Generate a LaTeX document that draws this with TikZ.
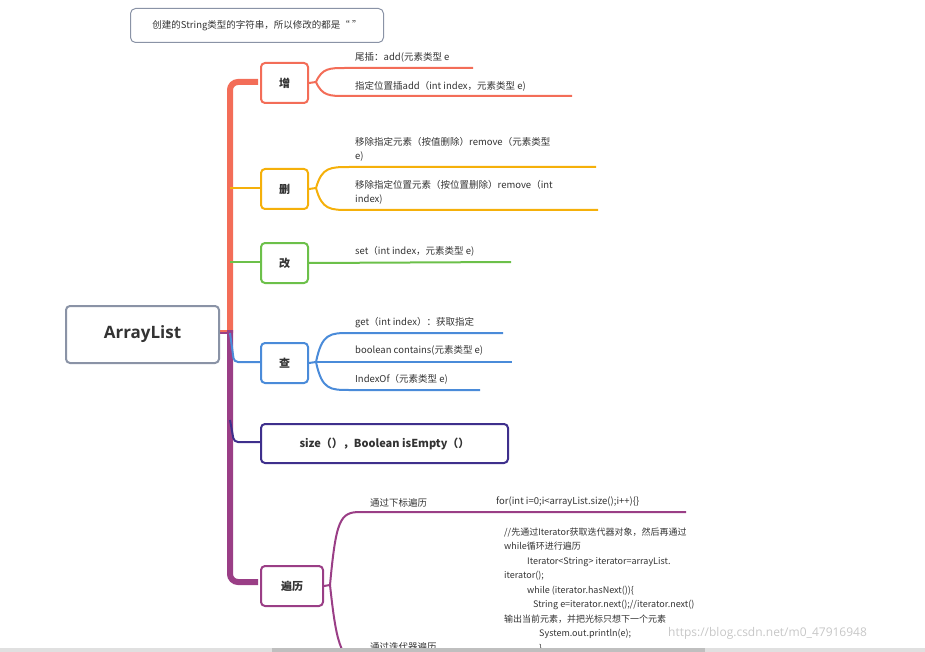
\documentclass[tikz,border=0pt]{standalone}
\usepackage{fontspec}
\setmainfont{Open Sans}
\newfontfamily\cjk{Noto Sans CJK SC}
\usetikzlibrary{positioning}
\definecolor{cadd}{HTML}{F36D58}
\definecolor{cdel}{HTML}{F5B00A}
\definecolor{cmod}{HTML}{6CC04A}
\definecolor{cget}{HTML}{4A8BD9}
\definecolor{csize}{HTML}{3E2F8C}
\definecolor{ctrav}{HTML}{9A3E86}
\definecolor{cgray}{HTML}{8A93A6}
\definecolor{ctxt}{HTML}{333333}
\tikzset{
 box/.style={draw=#1,line width=2pt,rounded corners=4pt,fill=white,text=ctxt,font=\cjk\fontsize{11}{13}\selectfont\bfseries,inner sep=0pt},
 lab/.style={anchor=south west,inner sep=0pt,text=ctxt,font=\cjk\fontsize{9.5}{14.5}\selectfont,align=left},
 br/.style={draw=#1,line width=2pt,rounded corners=8pt},
}
\begin{document}
\begin{tikzpicture}[x=1pt,y=-1pt]
\useasboundingbox (0,0) rectangle (925,652);
\clip (0,0) rectangle (925,652);
% top note
\node[draw=cgray,line width=1pt,rounded corners=5pt,minimum width=253pt,minimum height=34pt,anchor=north west,text=ctxt,font=\cjk\fontsize{9.5}{12}\selectfont] (note) at (130,8) {创建的String类型的字符串，所以修改的都是“ ”};
% trunk
\draw[cadd,line width=6pt,rounded corners=8pt] (258,82) -- (230,82) -- (230,333);
\draw[ctrav,line width=6pt,rounded corners=8pt] (230,330) -- (230,582) -- (258,582);
\draw[cdel,line width=2pt] (230,188) -- (260,188);
\draw[cmod,line width=2pt] (230,262) -- (260,262);
\draw[ctrav,line width=2pt] (218,333) -- (230,333);
\draw[cadd,line width=2pt] (218,331) -- (227,331);
\draw[cget,line width=2pt,rounded corners=4pt] (230,333) -- (234,362) -- (260,362);
\draw[csize,line width=2pt,rounded corners=4pt] (230,420) -- (234,442) -- (260,442);
% root
\node[draw=cgray,line width=2pt,rounded corners=4pt,fill=white,minimum width=153pt,minimum height=57pt,anchor=north west,text=ctxt,font=\fontsize{17}{20}\selectfont\bfseries] (root) at (65,305) {ArrayList};
% nodes
\node[box=cadd,minimum width=47pt,minimum height=40pt,anchor=north west] (add) at (260,62) {增};
\node[box=cdel,minimum width=47pt,minimum height=40pt,anchor=north west] (del) at (260,168) {删};
\node[box=cmod,minimum width=47pt,minimum height=40pt,anchor=north west] (mod) at (260,242) {改};
\node[box=cget,minimum width=47pt,minimum height=40pt,anchor=north west] (get) at (260,342) {查};
\node[box=csize,minimum width=247pt,minimum height=39pt,anchor=north west] (size) at (260,423) {size（），Boolean isEmpty（）};
\node[box=ctrav,minimum width=62pt,minimum height=40pt,anchor=north west] (trav) at (260,565) {遍历};
% add branches
\draw[cadd,line width=2pt] (add.east) -- (316,82) .. controls (322,68) and (330,68) .. (345,68) -- (473,68);
\draw[cadd,line width=2pt] (316,82) .. controls (322,96) and (330,96) .. (345,96) -- (572,96);
\node[lab] at (355,63) {尾插：add(元素类型 e};
\node[lab] at (355,92) {指定位置插add（int index，元素类型 e)};
% del
\draw[cdel,line width=2pt] (del.east) -- (316,188) .. controls (322,167) and (330,167) .. (350,167) -- (596,167);
\draw[cdel,line width=2pt] (316,188) .. controls (322,210) and (330,210) .. (350,210) -- (598,210);
\node[lab] at (355,162) {移除指定元素（按值删除）remove（元素类型\\e)};
\node[lab] at (355,205) {移除指定位置元素（按位置删除）remove（int\\index)};
% mod
\draw[cmod,line width=2pt] (mod.east) -- (511,262);
\node[lab] at (355,257) {set（int index，元素类型 e)};
% get
\draw[cget,line width=2pt] (get.east) -- (316,362) .. controls (322,333) and (330,333) .. (350,333) -- (503,333);
\draw[cget,line width=2pt] (316,362) -- (512,362);
\draw[cget,line width=2pt] (316,362) .. controls (322,390) and (330,390) .. (350,390) -- (480,390);
\node[lab] at (355,328) {get（int index）：获取指定};
\node[lab] at (355,356) {boolean contains(元素类型 e)};
\node[lab] at (355,385) {IndexOf（元素类型 e)};
% traversal
\draw[ctrav,line width=2pt] (trav.east) -- (330,585) .. controls (336,520) and (340,512) .. (360,512) -- (686,512);
\draw[ctrav,line width=2pt] (330,585) .. controls (336,640) and (340,660) .. (360,665) -- (700,665);
\node[lab] at (370,507) {通过下标遍历};
\node[lab] at (496,507) {for(int i=0;i<arrayList.size();i++)\{\}};
\node[lab,font=\cjk\fontsize{9}{14.5}\selectfont] at (504,653) {//先通过Iterator获取迭代器对象，然后再通过\\while循环进行遍历\\\hspace*{23pt}Iterator<String> iterator=arrayList.\\iterator();\\\hspace*{23pt}while (iterator.hasNext())\{\\\hspace*{29pt}String e=iterator.next();//iterator.next()\\输出当前元素，并把光标只想下一个元素\\\hspace*{35pt}System.out.println(e);\\\hspace*{35pt}\}};
\node[lab] at (370,651) {通过迭代器遍历};
% watermark & scrollbar
\node[anchor=west,inner sep=0pt,text=black!22,font=\fontsize{12}{14}\selectfont] (wm) at (668,633) {https://blog.csdn.net/m0\_47916948};
\fill[black!12] (0,648) rectangle (925,652);
\fill[black!25] (272,648) rectangle (705,652);
\end{tikzpicture}
\end{document}
